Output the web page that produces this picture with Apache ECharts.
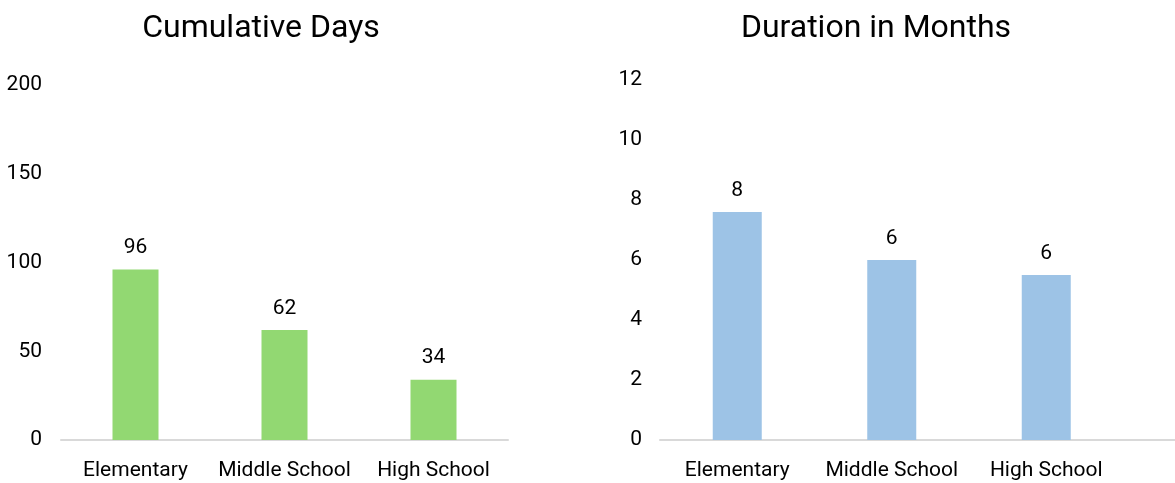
<!DOCTYPE html>
<html>
<head>
<meta charset="utf-8">
<script src="https://cdn.jsdelivr.net/npm/echarts@6/dist/echarts.min.js"></script>
<style>
  html, body { margin: 0; padding: 0; background: #fff; }
  #chart { width: 1175px; height: 483px; }
</style>
</head>
<body>
<div id="chart"></div>
<script>
// School levels shared by both panels
const categories = ['Elementary', 'Middle School', 'High School'];

// Left panel: cumulative days per level
const daysTitle = 'Cumulative Days';
const daysValues = [96, 62, 34];
const daysTicks = { min: 0, max: 200, interval: 50 };

// Right panel: duration in months per level
const monthsTitle = 'Duration in Months';
const monthsValues = [7.6, 6.0, 5.5];
const monthsTicks = { min: 0, max: 12, interval: 2 };

const FONT = 'Roboto';
const TEXT = '#000000';
const AXIS_GREY = '#D9D9D9';

const chart = echarts.init(document.getElementById('chart'), null, { renderer: 'canvas' });

function yAxis(gridIndex, ticks, margin) {
  return {
    type: 'value', gridIndex,
    min: ticks.min, max: ticks.max, interval: ticks.interval,
    axisLine: { show: false }, axisTick: { show: false },
    splitLine: { show: false },
    axisLabel: { color: TEXT, fontFamily: FONT, fontSize: 21, margin }
  };
}

function xAxis(gridIndex) {
  return {
    type: 'category', gridIndex, data: categories,
    axisLine: { show: true, lineStyle: { color: AXIS_GREY, width: 2 } },
    axisTick: { show: false },
    axisLabel: { color: TEXT, fontFamily: FONT, fontSize: 21, margin: 20, interval: 0 }
  };
}

function barSeries(idx, values, color, width) {
  return {
    type: 'bar', xAxisIndex: idx, yAxisIndex: idx,
    data: values, barWidth: width,
    itemStyle: { color },
    label: {
      show: true, position: 'top', distance: 11,
      color: TEXT, fontFamily: FONT, fontSize: 21,
      formatter: p => String(Math.round(p.value))
    },
    silent: true, animation: false
  };
}

const titleStyle = { color: TEXT, fontFamily: FONT, fontSize: 32, fontWeight: 'normal' };

chart.setOption({
  animation: false,
  title: [
    { text: daysTitle, left: 256, top: 8, textAlign: 'center', textStyle: titleStyle },
    { text: monthsTitle, left: 871, top: 8, textAlign: 'center', textStyle: titleStyle }
  ],
  grid: [
    { left: 61, top: 85, width: 447, height: 355, containLabel: false },
    { left: 660, top: 80, width: 463.5, height: 360, containLabel: false }
  ],
  xAxis: [xAxis(0), xAxis(1)],
  yAxis: [yAxis(0, daysTicks, 19), yAxis(1, monthsTicks, 18)],
  series: [
    barSeries(0, daysValues, '#92D872', 46),
    barSeries(1, monthsValues, '#9DC3E6', 49)
  ],
  // baseline of the right panel continues to the edge of the canvas
  graphic: [{
    type: 'line', silent: true,
    shape: { x1: 1123.5, y1: 440, x2: 1175, y2: 440 },
    style: { stroke: AXIS_GREY, lineWidth: 2 }
  }]
});
</script>
</body>
</html>
